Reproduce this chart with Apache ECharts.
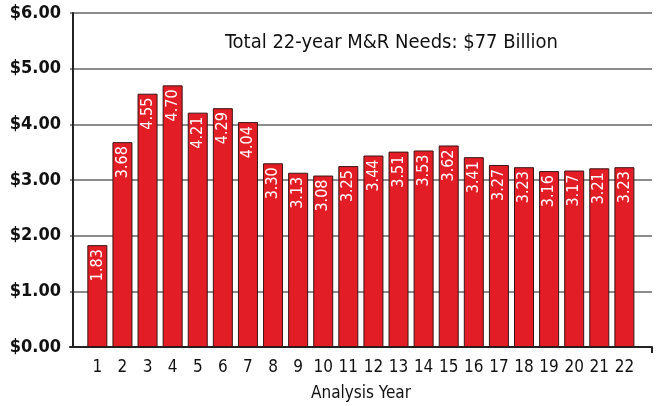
<!DOCTYPE html>
<html>
<head>
<meta charset="utf-8">
<script src="https://cdn.jsdelivr.net/npm/echarts@6/dist/echarts.min.js"></script>
<style>
html,body{margin:0;padding:0;background:#fff;}
#chart{width:657px;height:406px;}
</style>
</head>
<body>
<div id="chart"></div>
<script>
// analysis years and M&R needs ($ billions)
const years = [1,2,3,4,5,6,7,8,9,10,11,12,13,14,15,16,17,18,19,20,21,22];
const needs = [1.83,3.68,4.55,4.70,4.21,4.29,4.04,3.30,3.13,3.08,3.25,3.44,3.51,3.53,3.62,3.41,3.27,3.23,3.16,3.17,3.21,3.23];
const yTicks = [0,1,2,3,4,5,6];
const titleText = 'Total 22-year M&R Needs: $77 Billion';

const font = "'DejaVu Sans Condensed', 'Liberation Sans', sans-serif";
const chart = echarts.init(document.getElementById('chart'));

let barData = [];
for (let i = 0; i < years.length; i++) {
    barData.push([years[i], needs[i]]);
}

const option = {
    animation: false,
    title: {
        text: titleText,
        left: 220,
        top: 28,
        textStyle: {fontFamily: font, fontSize: 20, fontWeight: 'normal', color: '#111'}
    },
    grid: {left: 70, right: 5, top: 13, bottom: 59, outerBoundsMode: 'none', containLabel: false},
    xAxis: {
        type: 'value',
        min: -0.09,
        max: 23.1,
        name: 'Analysis Year',
        nameLocation: 'middle',
        nameGap: 38,
        nameTextStyle: {fontFamily: font, fontSize: 17, color: '#111'},
        splitLine: {show: false},
        axisLine: {show: true, lineStyle: {color: '#222', width: 2}},
        axisTick: {show: true, customValues: [23.1], length: 6, lineStyle: {color: '#222', width: 2}},
        axisLabel: {
            customValues: years,
            margin: 12,
            fontFamily: font, fontSize: 17, color: '#111',
            formatter: v => String(v)
        }
    },
    yAxis: {
        type: 'value',
        min: 0,
        max: 6,
        interval: 1,
        axisLine: {show: true, lineStyle: {color: '#222', width: 2}},
        axisTick: {show: false},
        splitLine: {lineStyle: {color: '#666', width: 1.5}},
        axisLabel: {
            margin: 9,
            fontFamily: font, fontSize: 18, fontWeight: 'bold', color: '#111',
            formatter: v => yTicks.indexOf(v) >= 0 ? '$' + v.toFixed(2) : ''
        }
    },
    series: [{
        type: 'bar',
        data: barData,
        barWidth: 20,
        itemStyle: {color: '#e31d25', borderColor: '#3a1414', borderWidth: 1},
        label: {
            show: true,
            position: 'insideTop',
            rotate: 90,
            align: 'right',
            verticalAlign: 'middle',
            distance: 4,
            fontFamily: font, fontSize: 16, color: '#fff',
            formatter: p => p.value[1].toFixed(2)
        }
    }]
};

chart.setOption(option);
</script>
</body>
</html>
